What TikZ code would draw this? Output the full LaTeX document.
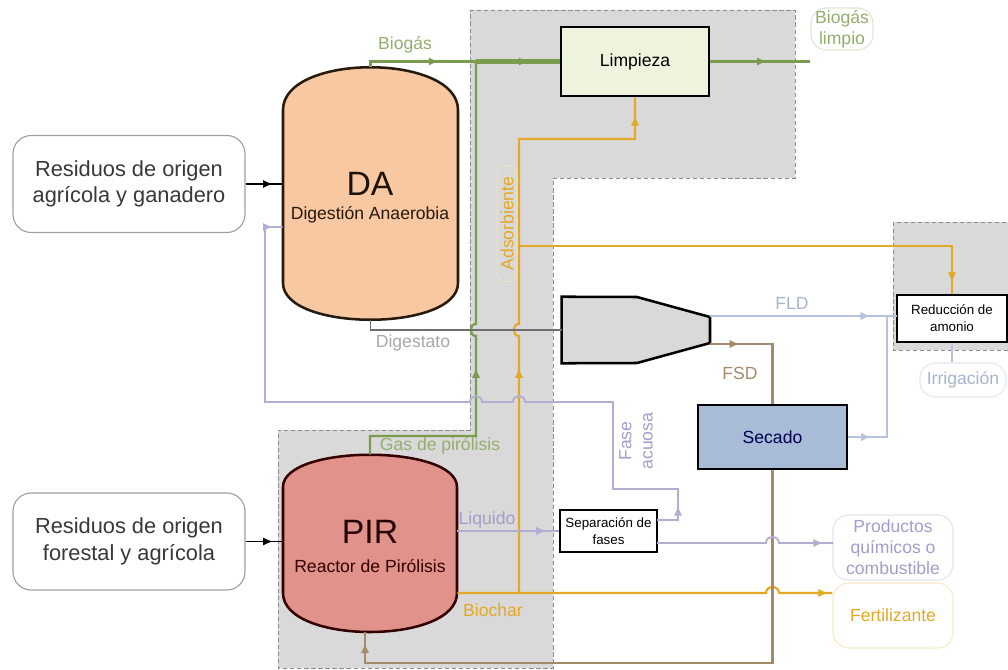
\documentclass[tikz,border=0pt]{standalone}
\usepackage{fontspec}
\setmainfont{Liberation Sans}
\usetikzlibrary{arrows.meta,decorations.markings}

\definecolor{verde}{HTML}{7B9B4E}
\definecolor{verdeclaro}{HTML}{93AE6C}
\definecolor{naranja}{HTML}{E3A826}
\definecolor{gris}{HTML}{6E6E6E}
\definecolor{grisclaro}{HTML}{A8A8A8}
\definecolor{lila}{HTML}{B2AED3}
\definecolor{lilatxt}{HTML}{A49DCB}
\definecolor{azulclaro}{HTML}{B7C3DA}
\definecolor{azultxt}{HTML}{A6B4D2}
\definecolor{marron}{HTML}{A38B6B}
\definecolor{fondo}{HTML}{D9D9D9}
\definecolor{daf}{HTML}{F8C8A2}
\definecolor{pirf}{HTML}{E1928B}
\definecolor{limf}{HTML}{EEF3DD}
\definecolor{secf}{HTML}{A8BCD7}

\tikzset{
  flecha/.style={postaction={decorate,decoration={markings,
      mark=at position #1 with {\arrow{Latex[length=7pt,width=6pt]}}}}},
  txt/.style={font=\fontsize{12.5}{15}\selectfont},
  caja/.style={draw=black,line width=2pt,inner sep=0pt,align=center},
  entrada/.style={draw=black!38,rounded corners=13pt,line width=0.8pt,align=center,
      text=black!78,font=\fontsize{15.5}{19}\selectfont,
      minimum width=5.8cm,minimum height=2.425cm},
  salida/.style={draw=#1,rounded corners=11pt,line width=0.8pt,align=center,
      inner sep=0pt,txt},
  vaso/.style={line width=1.8pt},
  zona/.style={fill=fondo,draw=black!45,densely dashed,line width=0.5pt},
}

\begin{document}
\begin{tikzpicture}[x=0.025cm,y=-0.025cm]
\useasboundingbox (0,0) rectangle (1008,670);
%zonas
\draw[zona] (470,10) -- (795,10) -- (795,178) -- (553,178) -- (553,668)
    -- (278,668) -- (278,430) -- (470,430) -- cycle;
\draw[zona] (893,222) rectangle (1015,350);

%entradas
\node[entrada] (res1) at (129,184) {Residuos de origen\\agrícola y ganadero};
\node[entrada] (res2) at (129,541.5) {Residuos de origen\\forestal y agrícola};

%DA
\node[minimum width=4.375cm,minimum height=6.325cm] (da) at (370.5,193.5) {};
\draw[vaso,draw=black!80!brown,fill=daf] (283,110) .. controls (283,53) and (458,53) .. (458,110)
    -- (458,283) .. controls (458,332) and (283,332) .. (283,283) -- cycle;
\node[font=\fontsize{24}{26}\selectfont,text=black!85!brown] (datit) at (370,184) {DA};
\node[txt,text=black!80!brown] (dasub) at (370,215) {Digestión Anaerobia};

%PIR
\node[minimum width=4.35cm,minimum height=4.45cm] (pir) at (370,544) {};
\draw[vaso,draw=black!80!red,fill=pirf] (283,487) .. controls (283,444) and (457,444) .. (457,487)
    -- (457,593) .. controls (457,645) and (283,645) .. (283,593) -- cycle;
\node[font=\fontsize{24}{26}\selectfont,text=black!85!red] (pirtit) at (370,532) {PIR};
\node[txt,text=black!80!red] (pirsub) at (370,566) {Reactor de Pirólisis};

%procesos
\node[caja,fill=limf,minimum width=3.7cm,minimum height=1.725cm,txt] (lim) at (635,61.5) {Limpieza};
\node[minimum width=3.7cm,minimum height=1.65cm] (sep) at (636,330) {};
\draw[fill=fondo,line width=1.8pt] (sep.north west) -- (637,297) -- (710,317) -- (710,343)
    -- (637,363) -- (sep.south west) -- cycle;
\node[caja,fill=secf,minimum width=3.725cm,minimum height=1.6cm,txt,text=black!70!blue] (sec) at (772.5,437) {Secado};
\node[caja,fill=white,minimum width=2.75cm,minimum height=1.175cm,
    font=\fontsize{9.5}{12}\selectfont] (red) at (952,318.5) {Reducción de\\amonio};
\node[caja,fill=white,minimum width=2.425cm,minimum height=1.05cm,
    font=\fontsize{9.5}{12}\selectfont] (sf) at (608.5,531) {Separación de\\fases};

%salidas
\node[salida=verde!25,text=verdeclaro,minimum width=1.55cm,minimum height=1.05cm] (blimpio) at (842,29) {Biogás\\limpio};
\node[salida=lila!35,text=lilatxt,minimum width=3cm,minimum height=1.625cm] (prod) at (893,547.5) {Productos\\químicos o\\combustible};
\node[salida=naranja!25,text=naranja,minimum width=3cm,minimum height=1.625cm] (fert) at (893,615.5) {Fertilizante};
\node[salida=azulclaro!40,text=azultxt,minimum width=2.15cm,minimum height=0.85cm] (irr) at (963,380) {Irrigación};

%entradas -> reactores
\draw[black,line width=1.4pt,flecha=-7pt] (res1.east) -- (da.west |- res1.east);
\draw[black,line width=1.4pt,flecha=-7pt] (res2.east) -- (pir.west |- res2.east);

%Biogas
\draw[verde,line width=1.6pt,flecha=-86pt] (da.north) -- (da.north |- lim.west) -- (lim.west);
\node[txt,text=verdeclaro] (lbio) at (405,45) {Biogás};
%gas de pirolisis
\draw[verde,line width=1.6pt,flecha=137pt] (pir.north) -- (370,436) -- (476,436) -- (476,336)
    .. controls (469,336) and (469,324) .. (476,324) -- (476,61.5) coordinate (union);
\draw[verde,line width=3pt,flecha=-22pt] (union) -- (lim.west);
\node[txt,text=verdeclaro] (lgas) at (440,446) {Gas de pirólisis};
\draw[verde,line width=2pt,flecha=-31pt] (lim.east) -- (blimpio.west |- lim.east);

%biochar y adsorbente
\coordinate (bc) at (519,593);
\draw[naranja,line width=1.5pt,flecha=-3pt] (pir.east |- bc) -- (766,593)
    .. controls (766,585) and (779,585) .. (779,593) -- (fert.west |- bc);
\node[txt,text=naranja] (lbch) at (493,610) {Biochar};
\draw[naranja,line width=1.5pt,flecha=160pt,flecha=-13pt] (bc) -- (519,336)
    .. controls (512,336) and (512,324) .. (519,324) -- (519,139) -- (635,139) -- (lim.south);
\draw[naranja,line width=1.5pt,flecha=-8pt] (519,246) -- (952,246) -- (red.north);
\node[draw=naranja!30,rounded corners=6pt,rotate=90,txt,text=naranja,
    minimum width=2.9cm,minimum height=0.5cm,inner sep=1pt] (ads) at (507,223.5) {Adsorbiente};

%digestato
\draw[gris,line width=0.8pt] (da.south) -- (da.south |- sep.west) -- (sep.west);
\node[txt,text=grisclaro] (ldig) at (413,343) {Digestato};

%FLD y FSD
\draw[azulclaro,line width=1.3pt,flecha=-19pt] (710,316) -- (897,316);
\node[txt,text=azultxt] (lfld) at (792,303) {FLD};
\draw[marron,line width=1.6pt,flecha=21pt] (710,344) -- (772.5,344) -- (sec.north);
\node[txt,text=marron] (lfsd) at (740,373) {FSD};
\draw[azulclaro,line width=1.3pt,flecha=16pt] (sec.east) -- (887,437) -- (887,316);
\draw[marron,line width=1.8pt,flecha=-8pt] (sec.south) -- (772.5,663) -- (365,663) -- (365,632);
\draw[azulclaro,line width=1.3pt] (red.south) -- (red.south |- irr.north);

%liquido
\draw[lila,line width=1.3pt,flecha=-9pt] (pir.east |- sf.west) -- (sf.west);
\node[txt,text=lilatxt] (lliq) at (487,520) {Liquido};
\draw[lila,line width=1.3pt,flecha=-7pt] (657,543) -- (766,543)
    .. controls (766,535) and (779,535) .. (779,543) -- (833,543);
%fase acuosa
\draw[lila,line width=1.3pt,flecha=25pt,flecha=-7pt] (657,520) -- (678,520) -- (678,489) -- (613,489)
    -- (613,402) -- (525,402) .. controls (525,394) and (513,394) .. (513,402)
    -- (482,402) .. controls (482,394) and (470,394) .. (470,402)
    -- (265,402) -- (265,227) -- (da.west |- 0,227);
\node[txt,text=lilatxt,rotate=90,align=center] (lfase) at (636,441) {Fase\\acuosa};
\end{tikzpicture}
\end{document}
